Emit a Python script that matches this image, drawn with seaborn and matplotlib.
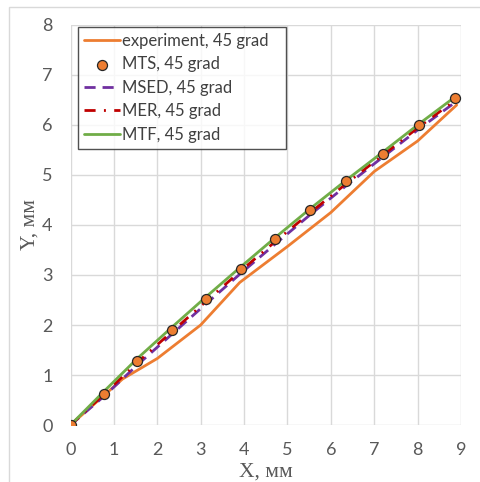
import matplotlib
matplotlib.use("Agg")
import matplotlib.pyplot as plt
import seaborn as sns
import pandas as pd
from matplotlib.patches import Rectangle

# Model predictions share the same sampling positions along X
x_model = [0, 0.78, 1.54, 2.33, 3.12, 3.92, 4.72, 5.53, 6.36, 7.20, 8.03, 8.86]
y_mts = [0, 0.63, 1.28, 1.90, 2.52, 3.12, 3.71, 4.29, 4.87, 5.43, 5.99, 6.53]
y_msed = [0, 0.58, 1.20, 1.81, 2.42, 3.03, 3.62, 4.21, 4.79, 5.36, 5.92, 6.45]
y_mer = [0, 0.62, 1.25, 1.86, 2.47, 3.08, 3.67, 4.25, 4.83, 5.40, 5.96, 6.49]
y_mtf = [0, 0.68, 1.33, 1.95, 2.56, 3.16, 3.75, 4.33, 4.90, 5.46, 6.02, 6.56]

# Measured crack path
x_exp = [0, 1.2, 2.0, 3.0, 3.9, 5.0, 6.0, 7.0, 8.0, 8.9]
y_exp = [0, 0.92, 1.33, 2.0, 2.85, 3.57, 4.25, 5.07, 5.68, 6.4]

labels = ["experiment, 45 grad", "MTS, 45 grad", "MSED, 45 grad",
          "MER, 45 grad", "MTF, 45 grad"]
x_ticks = list(range(0, 10))
y_ticks = list(range(0, 9))

sns.set_theme(style="whitegrid")
plt.rcParams["font.family"] = ["Lato", "DejaVu Sans"]

fig = plt.figure(figsize=(4.81, 4.82), dpi=100)
ax = fig.add_axes([70.5 / 481, 1 - 425 / 482, 390.5 / 481, 400 / 482])

c_exp, c_mts, c_msed, c_mer, c_mtf = "#ED7D31", "#ED7D31", "#7030A0", "#C00000", "#70AD47"

df_exp = pd.DataFrame({"x": x_exp, "y": y_exp})
df_mod = pd.DataFrame({"x": x_model, "mts": y_mts, "msed": y_msed,
                       "mer": y_mer, "mtf": y_mtf})

sns.lineplot(data=df_exp, x="x", y="y", ax=ax, sort=False, estimator=None,
             color=c_exp, lw=2.0, label=labels[0], zorder=3)
sns.lineplot(data=df_mod, x="x", y="msed", ax=ax, sort=False, estimator=None,
             color=c_msed, lw=2.0, dashes=False, label=labels[2], zorder=4)
sns.lineplot(data=df_mod, x="x", y="mer", ax=ax, sort=False, estimator=None,
             color=c_mer, lw=2.0, dashes=False, label=labels[3], zorder=5)
sns.lineplot(data=df_mod, x="x", y="mtf", ax=ax, sort=False, estimator=None,
             color=c_mtf, lw=2.0, label=labels[4], zorder=6)
sns.scatterplot(data=df_mod, x="x", y="mts", ax=ax, color=c_mts, s=52,
                edgecolor="#262626", linewidth=0.9, label=labels[1], zorder=7)

for ln in ax.get_lines():
    if ln.get_label() == labels[2]:
        ln.set_dashes((4, 2.5))
    elif ln.get_label() == labels[3]:
        ln.set_dashes((4, 3, 0.7, 3))

ax.set_xlim(0, 9)
ax.set_ylim(0, 8)
ax.set_xticks(x_ticks)
ax.set_yticks(y_ticks)
ax.grid(True, color="#D9D9D9", lw=1.0)
for s in ax.spines.values():
    s.set_visible(False)
ax.tick_params(axis="both", which="both", length=0, labelsize=13,
               labelcolor="#595959")
ax.tick_params(axis="x", pad=12)
ax.tick_params(axis="y", pad=13)
ax.set_xlabel("X, мм", family="Liberation Serif", fontsize=15.5, color="#595959")
ax.xaxis.set_label_coords(0.5, -0.095)
ax.set_ylabel("Y, мм", family="Liberation Serif", fontsize=15.5, color="#595959",
              labelpad=2)

handles, labs = ax.get_legend_handles_labels()
order = [labs.index(l) for l in labels]
leg = ax.legend([handles[i] for i in order], [labs[i] for i in order],
                loc="upper left", bbox_to_anchor=(0.019, 0.70, 0.533, 0.295),
                mode="expand", borderaxespad=0, fontsize=12, frameon=True,
                fancybox=False, handlelength=2.2, handletextpad=0.1,
                labelspacing=0.45, borderpad=0.35)
leg.get_frame().set_edgecolor("#262626")
leg.get_frame().set_linewidth(1.0)
for t in leg.get_texts():
    t.set_color("#404040")

fig.patches.append(Rectangle((9 / 481, -0.1), 1.2, 1.1 - 6.5 / 482,
                             transform=fig.transFigure, fill=False,
                             edgecolor="#D9D9D9", lw=1.0, zorder=0))

fig.savefig("out.png", dpi=100)
